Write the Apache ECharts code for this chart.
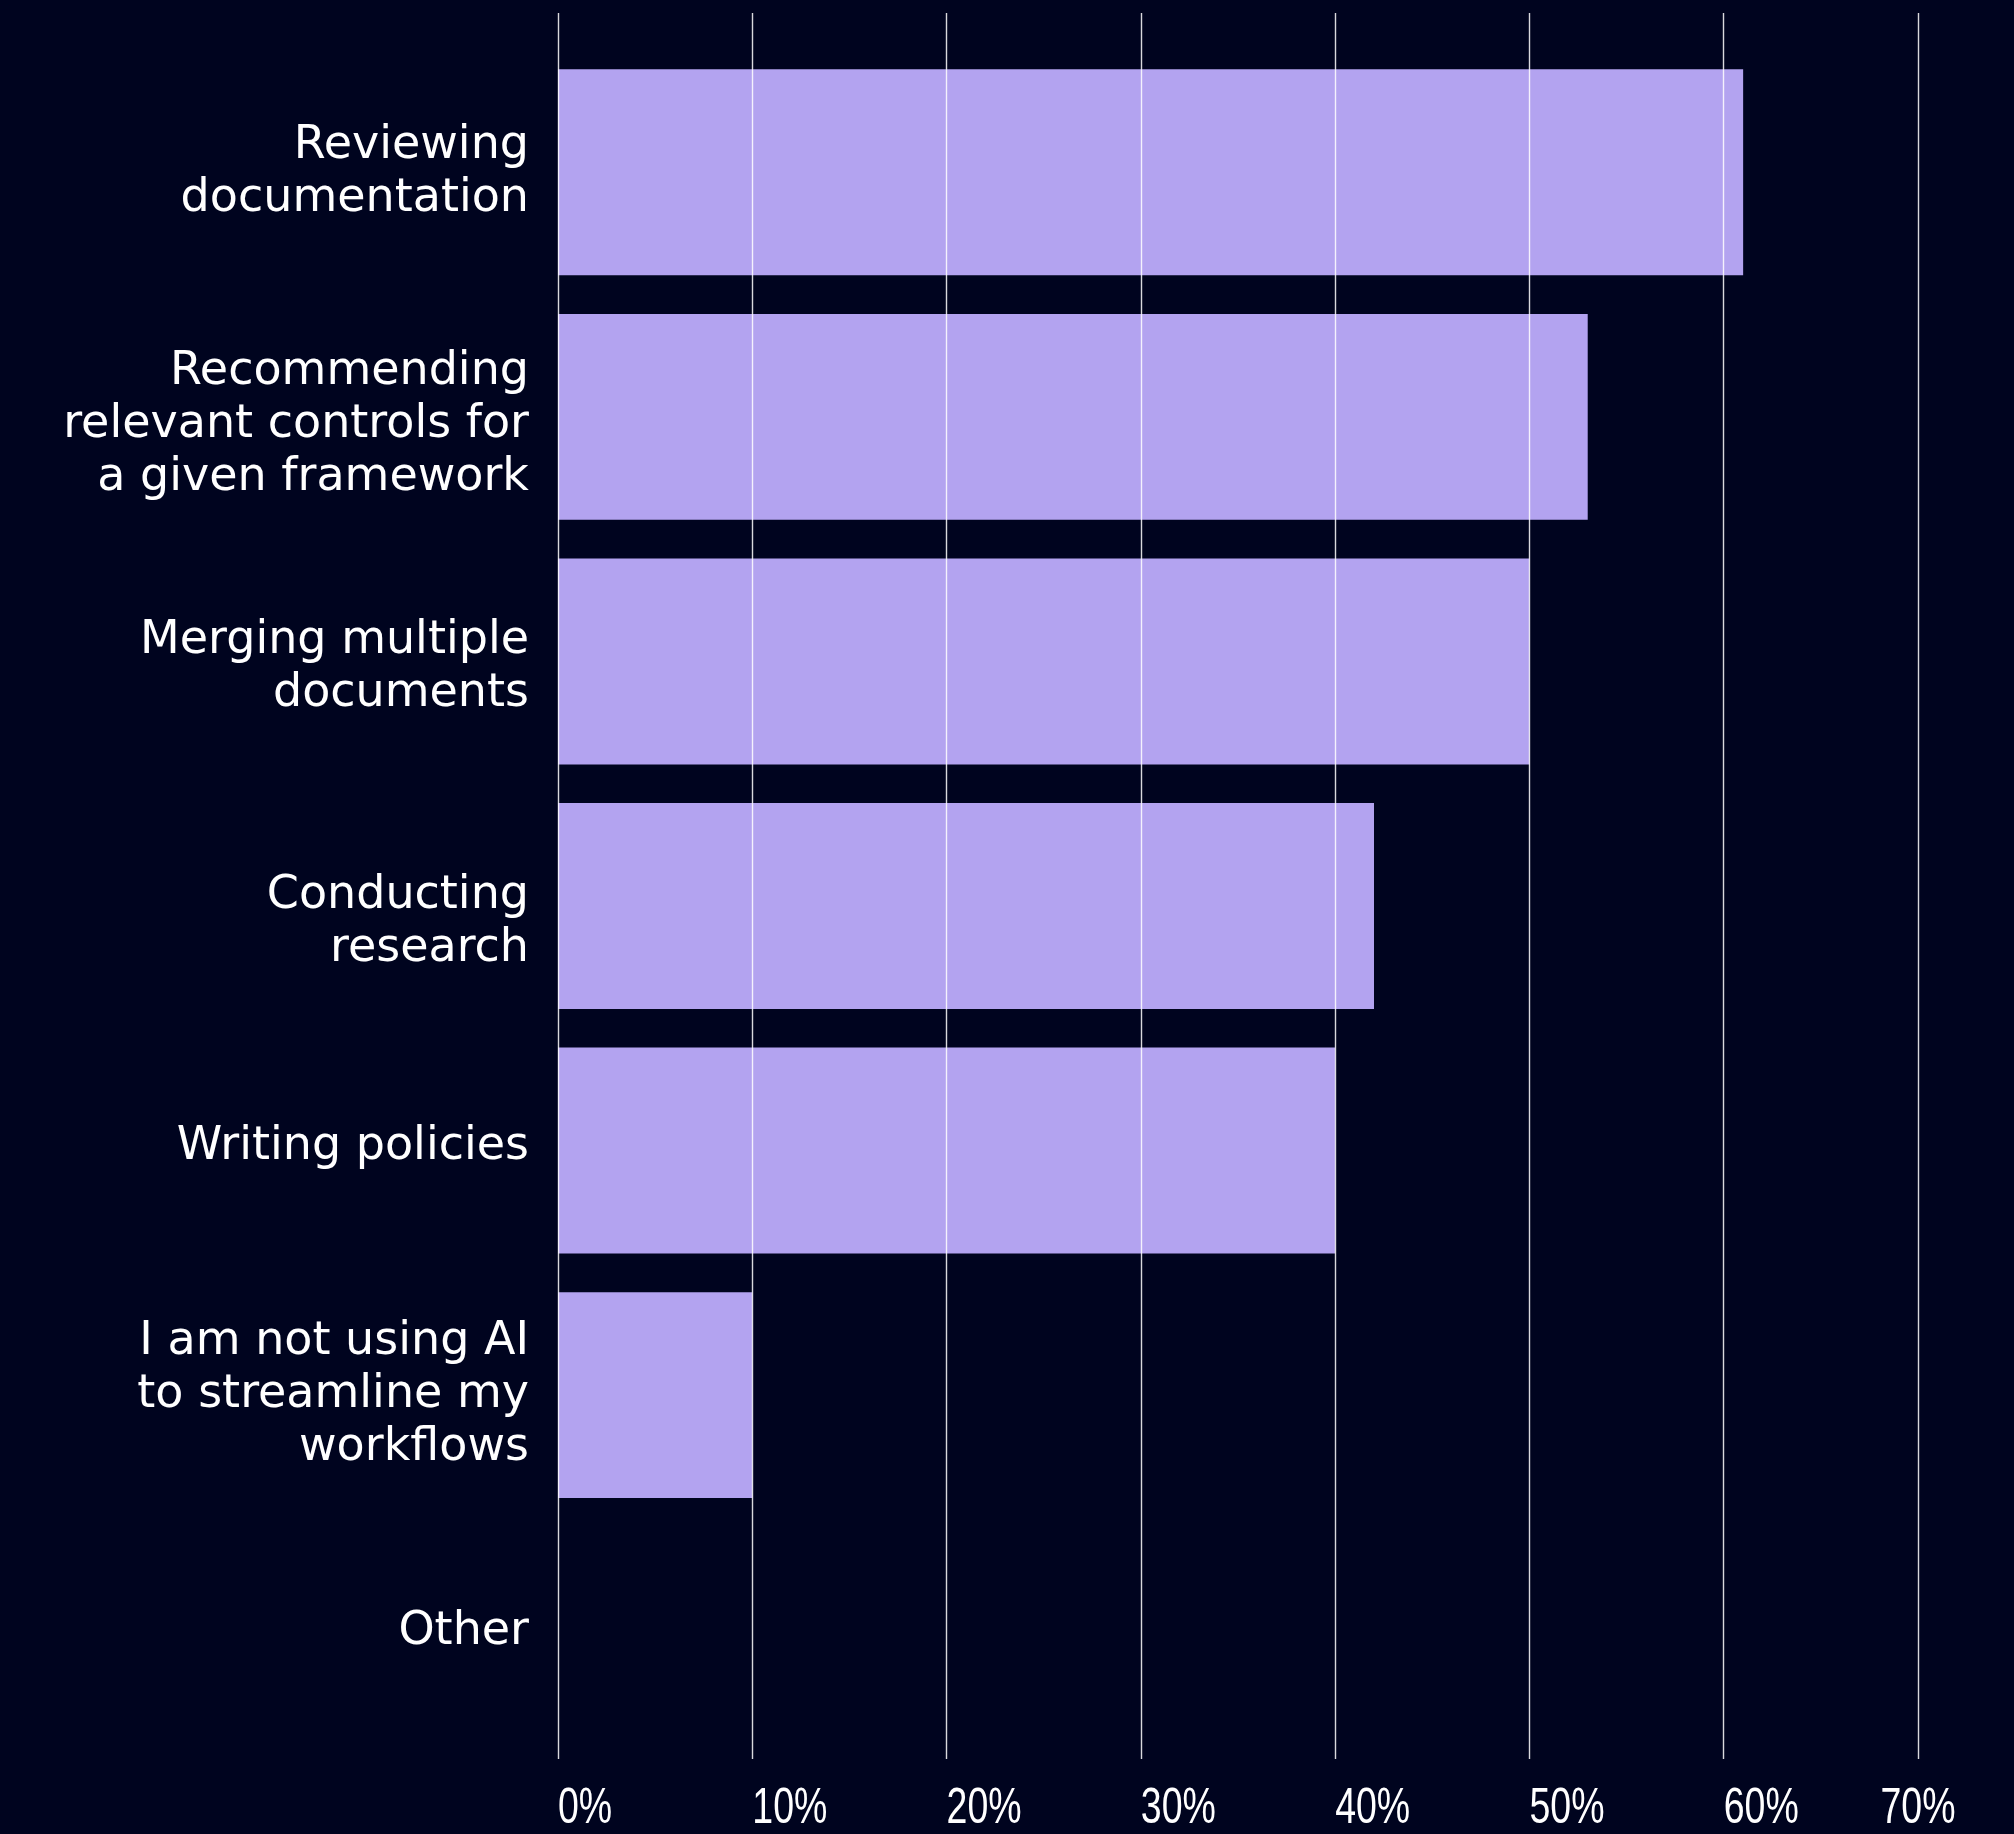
<!DOCTYPE html>
<html>
<head>
<meta charset="utf-8">
<title>AI uses in compliance workflows</title>
<script src="https://cdn.jsdelivr.net/npm/echarts@6/dist/echarts.min.js"></script>
<style>
  html, body { margin: 0; padding: 0; background: #00041f; }
  #chart { width: 2014px; height: 1834px; }
</style>
</head>
<body>
<div id="chart"></div>
<script>
// Survey answers, top to bottom
const categories = [
  'Reviewing\ndocumentation',
  'Recommending\nrelevant controls for\na given framework',
  'Merging multiple\ndocuments',
  'Conducting\nresearch',
  'Writing policies',
  'I am not using AI\nto streamline my\nworkflows',
  'Other'
];
// Share of respondents (%)
const shares = [61, 53, 50, 42, 40, 10, 0];
// Percentage axis
const axisMin = 0;
const axisMax = 70;
const axisStep = 10;

// Small vertical nudges (px, positive = down) for the answer labels
const labelNudge = [0, 8, 6, 17, -4, 0, -8];

const chart = echarts.init(document.getElementById('chart'), null, { renderer: 'canvas' });

const gridLeft = 558;
const gridRight = 96;

// Spacer lines above / below a label shift its centred block up or down
const spacerRich = {};
labelNudge.forEach(function (d) {
  if (d !== 0) {
    const h = 2 * Math.abs(d);
    spacerRich['sp' + h] = { fontSize: 1, lineHeight: h, height: h };
  }
});
function answerLabel(value, index) {
  const d = labelNudge[index] || 0;
  if (d === 0) return value;
  const tag = '{sp' + (2 * Math.abs(d)) + '| }';
  return d > 0 ? tag + '\n' + value : value + '\n' + tag;
}

chart.setOption({
  backgroundColor: '#00041f',
  animation: false,
  grid: [
    // bars
    { left: gridLeft, right: gridRight, top: 50, height: 1712 },
    // vertical guide lines and percentage labels, drawn over the bars
    { left: gridLeft, right: gridRight, top: 13, bottom: 69 }
  ],
  xAxis: [
    {
      gridIndex: 0,
      type: 'value',
      min: axisMin, max: axisMax, interval: axisStep,
      axisLine: { show: false }, axisTick: { show: false },
      axisLabel: { show: false }, splitLine: { show: false }
    },
    {
      gridIndex: 1,
      type: 'value',
      min: axisMin, max: axisMax, interval: axisStep,
      z: 10,
      axisLine: { show: false }, axisTick: { show: false },
      splitLine: { show: true, lineStyle: { color: 'rgba(255,255,255,0.85)', width: 1.4 } },
      axisLabel: {
        formatter: '{value}%',
        color: '#ffffff',
        fontFamily: '"Liberation Sans", Arial, sans-serif',
        fontSize: 50,
        align: 'left',
        alignMaxLabel: 'center',
        margin: 25
      }
    }
  ],
  yAxis: [
    {
      gridIndex: 0,
      type: 'category',
      inverse: true,
      data: categories,
      axisLine: { show: false }, axisTick: { show: false },
      splitLine: { show: false },
      axisLabel: {
        color: '#ffffff',
        fontFamily: '"DejaVu Sans", sans-serif',
        fontSize: 46,
        lineHeight: 53,
        align: 'right',
        margin: 29,
        formatter: answerLabel,
        rich: spacerRich
      }
    },
    {
      gridIndex: 1,
      type: 'category',
      data: categories,
      show: false
    }
  ],
  series: [
    {
      type: 'bar',
      xAxisIndex: 0,
      yAxisIndex: 0,
      data: shares,
      barCategoryGap: '15.8%',
      itemStyle: { color: '#b3a3f0' },
      silent: true
    }
  ]
});

// The percentage labels use a narrow face: squeeze them horizontally
// around their anchor point.
function condensePercentLabels(factor) {
  const zr = chart.getZr();
  zr.storage.getRoots().forEach(function (root) {
    const visit = function (el) {
      if (el.type === 'text' && el.style && /%$/.test(String(el.style.text || ''))) {
        el.scaleX = factor;
        el.markRedraw();
      }
    };
    visit(root);
    if (root.traverse) root.traverse(visit);
  });
  zr.refreshImmediately();
}
condensePercentLabels(0.75);
</script>
</body>
</html>
